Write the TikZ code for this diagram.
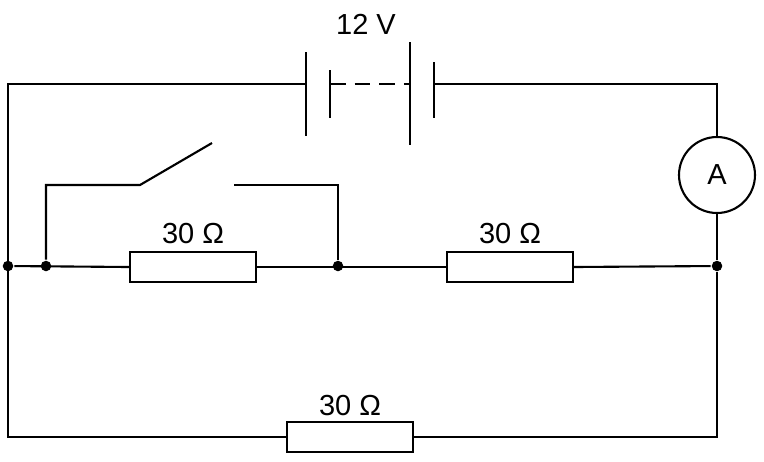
\documentclass[tikz,border=0pt]{standalone}
\usepackage{fontspec}
\setmainfont{Liberation Sans}
\begin{document}
\begin{tikzpicture}[x=0.02cm,y=-0.02cm,line width=1.2pt,
  res/.style={draw,fill=white,minimum width=2.52cm,minimum height=0.6cm,inner sep=0pt},
  lbl/.style={font=\fontsize{16.5}{19}\selectfont},
  dot/.style={circle,fill=black,inner sep=0pt,minimum size=6pt}]
\useasboundingbox (0,0) rectangle (764,461);
\coordinate (TL) at (8,84); \coordinate (BL) at (8,437);
\coordinate (TR) at (717,84); \coordinate (BR) at (717,437);
\coordinate (B1) at (306,84); \coordinate (B4) at (434,84);
\node[dot] (J1) at (8,266) {}; \node[dot] (J2) at (46,266) {};
\node[dot] (J3) at (338,266) {}; \node[dot] (J4) at (717,266) {};
\node[res] (R1) at (193,267) {}; \node[res] (R2) at (510,267) {};
\node[res] (R3) at (350,437) {};
\node[draw,circle,minimum size=1.52cm,inner sep=0pt,lbl] (A) at (717,175) {A};
\node[lbl] (L1) at (193,234) {30 Ω};
\node[lbl] (L2) at (510,234) {30 Ω};
\node[lbl] (L3) at (350,406) {30 Ω};
\node[lbl] (L4) at (366,24) {12 V};
% battery
\draw (306,52) -- (306,136); \draw (330,70) -- (330,118);
\draw (410,42) -- (410,145); \draw (434,62) -- (434,118);
\draw[dash pattern=on 9pt off 5pt] (330,84) -- (410,84);
% wires
\draw (B1) -- (TL) -- (BL) -- (R3.west);
\draw (R3.east) -- (BR) -- (J4) -- (A.south);
\draw (A.north) -- (TR) -- (B4);
\draw (J1) -- (R1.west); \draw (R1.east) -- (R2.west); \draw (R2.east) -- (J4);
% switch
\coordinate (S1) at (46,185); \coordinate (S2) at (140,185); \coordinate (S3) at (212,143);
\coordinate (S4) at (234,185); \coordinate (S5) at (338,185);
\draw (J2) -- (S1) -- (S2) -- (S3);
\draw (S4) -- (S5) -- (J3);
\end{tikzpicture}
\end{document}
